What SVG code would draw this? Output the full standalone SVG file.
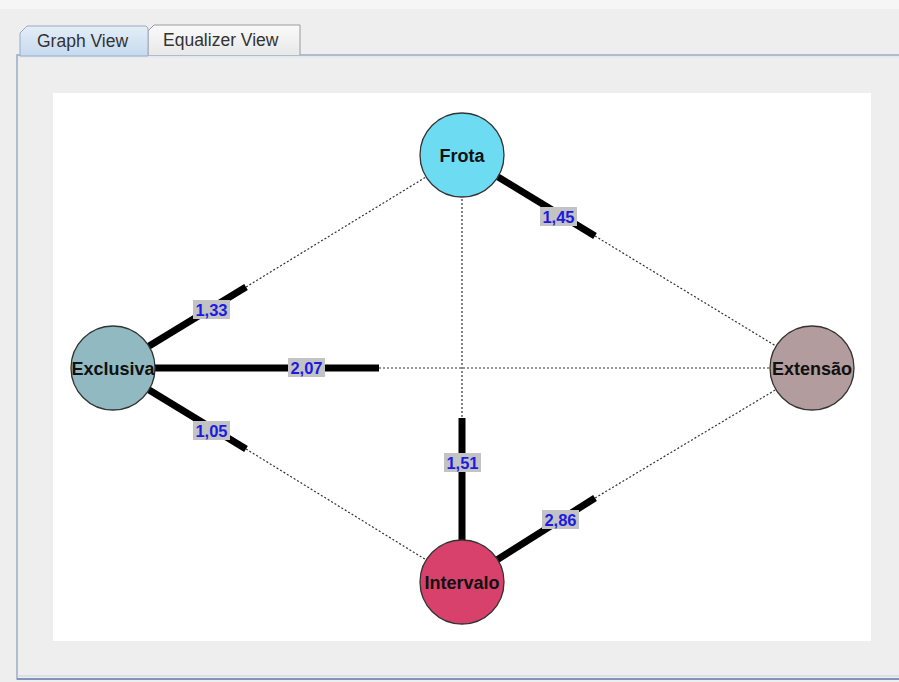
<svg xmlns="http://www.w3.org/2000/svg" width="899" height="682" viewBox="0 0 899 682">
<defs>
<linearGradient id="tabSel" x1="0" y1="0" x2="0" y2="1">
<stop offset="0" stop-color="#e4eef8"/><stop offset="1" stop-color="#c6daee"/>
</linearGradient>
<linearGradient id="tabOff" x1="0" y1="0" x2="0" y2="1">
<stop offset="0" stop-color="#fafafa"/><stop offset="1" stop-color="#e8e8e8"/>
</linearGradient>
</defs>
<style>
.thick{stroke:#000;stroke-width:7;stroke-linecap:butt;fill:none}
.dot{stroke:#333;stroke-width:1.2;stroke-dasharray:2 2;fill:none}
.lbox{fill:#c3c3c3}
.ltxt{font-family:"Liberation Sans",Arial,sans-serif;font-weight:bold;font-size:16.5px;fill:#1c1ce0;text-anchor:middle}
.node{stroke:#333;stroke-width:1.3}
.ntxt{font-family:"Liberation Sans",Arial,sans-serif;font-weight:bold;font-size:18px;fill:#111;text-anchor:middle}
.tab{font-family:"Liberation Sans",Arial,sans-serif;font-size:17.5px;fill:#333}
</style>
<rect x="0" y="0" width="899" height="682" fill="#eeeeee"/>
<rect x="0" y="0" width="899" height="9" fill="#f6f6f6"/>
<!-- panel -->
<rect x="17" y="55" width="890" height="624" fill="#eeeeee" stroke="#9aaac4" stroke-width="1.5"/>
<line x1="18" y1="57" x2="899" y2="57" stroke="#dde4ee" stroke-width="1"/>
<line x1="17" y1="676" x2="899" y2="676" stroke="#c8d2e2" stroke-width="1"/>
<line x1="17" y1="679" x2="899" y2="679" stroke="#7f94b8" stroke-width="2"/>
<!-- tabs -->
<g id="tab-equalizer">
<path d="M148,55 L148,31 L154,25 L300,25 L300,55" fill="url(#tabOff)" stroke="#9a9a9a" stroke-width="1"/>
<text class="tab" x="163" y="46">Equalizer View</text>
</g>
<g id="tab-graph">
<path d="M20,56 L20,33 L27,26 L146,26 L148,28 L148,56 Z" fill="url(#tabSel)" stroke="#9aaac4" stroke-width="1"/>
<text class="tab" x="37" y="47">Graph View</text>
</g>
<!-- canvas -->
<rect x="53" y="93" width="818" height="548" fill="#ffffff"/>
<g id="connectors">
<!-- Frota - Extensao -->
<line class="thick" x1="462" y1="155" x2="595" y2="236"/>
<line class="dot" x1="595" y1="236" x2="812" y2="368"/>
<!-- Exclusiva - Frota -->
<line class="thick" x1="113" y1="368" x2="246" y2="287"/>
<line class="dot" x1="246" y1="287" x2="462" y2="155"/>
<!-- Exclusiva - Extensao -->
<line class="thick" x1="113" y1="368" x2="379" y2="368"/>
<line class="dot" x1="379" y1="368" x2="812" y2="368"/>
<!-- Exclusiva - Intervalo -->
<line class="thick" x1="113" y1="368" x2="246" y2="449"/>
<line class="dot" x1="246" y1="449" x2="462" y2="582"/>
<!-- Frota - Intervalo -->
<line class="dot" x1="462" y1="155" x2="462" y2="418"/>
<line class="thick" x1="462" y1="418" x2="462" y2="582"/>
<!-- Intervalo - Extensao -->
<line class="thick" x1="462" y1="582" x2="595" y2="498"/>
<line class="dot" x1="595" y1="498" x2="812" y2="368"/>
<!-- labels -->
<rect class="lbox" x="540" y="207" width="37" height="19"/><text class="ltxt" x="558.5" y="223">1,45</text>
<rect class="lbox" x="193" y="300" width="37" height="19"/><text class="ltxt" x="211.5" y="316">1,33</text>
<rect class="lbox" x="288" y="358" width="37" height="19"/><text class="ltxt" x="306.5" y="374">2,07</text>
<rect class="lbox" x="193" y="421" width="37" height="19"/><text class="ltxt" x="211.5" y="437">1,05</text>
<rect class="lbox" x="444" y="453" width="37" height="19"/><text class="ltxt" x="462.5" y="469">1,51</text>
<rect class="lbox" x="542" y="510" width="37" height="19"/><text class="ltxt" x="560.5" y="526">2,86</text>
</g>
<g id="node-frota">
<circle class="node" cx="462" cy="155" r="42" fill="#6ddcf2"/>
<text class="ntxt" x="462" y="162">Frota</text>
</g>
<g id="node-exclusiva">
<circle class="node" cx="113" cy="368" r="42" fill="#90b9c1"/>
<text class="ntxt" x="113" y="375">Exclusiva</text>
</g>
<g id="node-extensao">
<circle class="node" cx="812" cy="368" r="42" fill="#b29c9d"/>
<text class="ntxt" x="812" y="375">Extensão</text>
</g>
<g id="node-intervalo">
<circle class="node" cx="462" cy="582" r="42" fill="#d8416b"/>
<text class="ntxt" x="462" y="589">Intervalo</text>
</g>
</svg>
